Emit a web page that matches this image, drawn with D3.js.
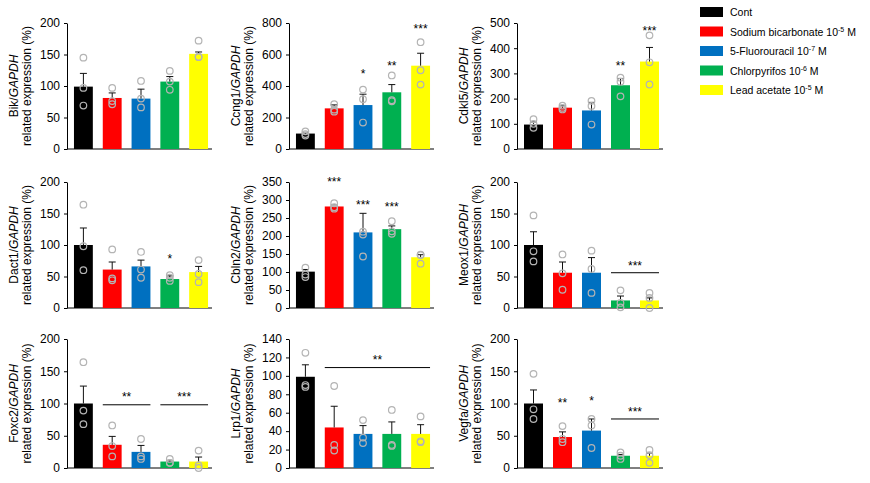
<!DOCTYPE html>
<html>
<head>
<meta charset="utf-8">
<script src="https://cdn.jsdelivr.net/npm/d3@7"></script>
<style>
  html, body { margin: 0; padding: 0; background: #ffffff; }
  svg { display: block; font-family: "Liberation Sans", Arial, sans-serif; }
</style>
</head>
<body>
<script>
// ---------------- DATA ----------------
const genes = ["Bik", "Ccng1", "Cdkl5", "Dact1", "Cbln2", "Meox1", "Foxc2", "Lrp1", "Vegfa"];
const groups = ["Cont", "Sodium bicarbonate", "5-Fluorouracil", "Chlorpyrifos", "Lead acetate"];
const legendLabels = ["Cont", "Sodium bicarbonate 10", "5-Fluorouracil 10", "Chlorpyrifos 10", "Lead acetate 10"];
const legendExponents = ["", "-5", "-7", "-6", "-5"];
const colors = ["#000000", "#ff0000", "#0070c0", "#00b050", "#ffff00"];

const yMaxes = [200, 800, 500, 200, 350, 200, 200, 140, 200];
const yTickSteps = [50, 200, 100, 50, 50, 50, 50, 20, 50];

const means = [
  [99, 81, 80, 107, 151],
  [98, 258, 279, 360, 529],
  [97, 164, 153, 253, 347],
  [100, 61, 66, 46, 57],
  [101, 282, 210, 219, 141],
  [100, 56, 56, 12, 12],
  [100, 36, 25, 10, 10],
  [99, 44, 37, 37, 37],
  [100, 48, 58, 19, 19]
];
const errTops = [
  [120, 89, 95, 115, 154],
  [106, 280, 348, 409, 608],
  [107, 173, 185, 280, 403],
  [127, 73, 76, 51, 66],
  [107, 286, 263, 228, 148],
  [121, 73, 80, 19, 16],
  [127, 49, 35, 11, 17],
  [112, 67, 46, 50, 47],
  [121, 56, 76, 21, 23]
];
const points = [
  [[145, 97, 69], [97, 71, 76], [108, 80, 66], [124, 107, 94], [172, 146, 146]],
  [[112, 95, 85], [284, 250, 237], [377, 316, 168], [467, 303, 310], [678, 409, 500]],
  [[118, 100, 84], [172, 157, 163], [191, 97, 171], [283, 209, 267], [451, 344, 256]],
  [[164, 98, 60], [93, 47, 44], [89, 61, 48], [52, 48, 43], [76, 41, 54]],
  [[112, 93, 86], [291, 280, 276], [212, 204, 143], [241, 213, 206], [148, 123, 147]],
  [[147, 90, 74], [85, 29, 55], [91, 62, 24], [28, 1, 8], [24, 16, 0]],
  [[164, 89, 68], [66, 34, 18], [45, 18, 14], [14, 8, 8], [27, 4, 0]],
  [[125, 90, 88], [89, 25, 19], [52, 33, 27], [63, 24, 25], [56, 29, 28]],
  [[146, 91, 76], [65, 40, 45], [76, 31, 66], [24, 14, 19], [28, 8, 20]]
];
// significance marks: [panel, firstGroup, lastGroup, label, starValue, lineValue or null]
const sigMarks = [
  [1, 2, 2, "*", 497, null],
  [1, 3, 3, "**", 544, null],
  [1, 4, 4, "***", 778, null],
  [2, 3, 3, "**", 340, null],
  [2, 4, 4, "***", 480, null],
  [3, 3, 3, "*", 83, null],
  [4, 1, 1, "***", 358, null],
  [4, 2, 2, "***", 294, null],
  [4, 3, 3, "***", 288, null],
  [5, 3, 4, "***", 71, 56],
  [6, 1, 2, "**", 114, 98],
  [6, 3, 4, "***", 114, 98],
  [7, 1, 4, "**", 121, 109],
  [8, 1, 1, "**", 105, null],
  [8, 2, 2, "*", 109, null],
  [8, 3, 4, "***", 91, 76]
];

// ---------------- LAYOUT ----------------
const W = 870, H = 483;
const colAxisX = [67, 289, 517];
const colAxisEnd = [212, 434, 663];
const rowTop = [23, 182, 339];
const rowBottom = [149, 308, 468];

const svg = d3.select("body").append("svg").attr("width", W).attr("height", H);

genes.forEach((gene, i) => {
  const col = i % 3, row = Math.floor(i / 3);
  const x0 = colAxisX[col], x1 = colAxisEnd[col];
  const yT = rowTop[row], yB = rowBottom[row];
  const g = svg.append("g");

  const y = d3.scaleLinear().domain([0, yMaxes[i]]).range([yB, yT]);
  const x = d3.scaleBand().domain(d3.range(groups.length))
    .range([x0 + 2, x1 + 1]).paddingInner(0.345).paddingOuter(0.1725);
  const bw = x.bandwidth();

  // y axis
  const yAxis = d3.axisLeft(y)
    .tickValues(d3.range(0, yMaxes[i] + 1e-9, yTickSteps[i]))
    .tickSize(3).tickSizeOuter(0).tickPadding(4);
  const ya = g.append("g").attr("transform", `translate(${x0},0)`).call(yAxis);
  ya.selectAll("text").attr("font-size", 12).attr("fill", "#000")
    .attr("font-family", "'Liberation Sans', Arial, sans-serif");
  ya.selectAll("line, path").attr("stroke", "#000").attr("stroke-width", 1);

  // x axis baseline
  g.append("line").attr("x1", x0).attr("x2", x1).attr("y1", yB).attr("y2", yB)
    .attr("stroke", "#000").attr("stroke-width", 1);

  // bars
  g.selectAll("rect.bar").data(means[i]).join("rect")
    .attr("class", "bar")
    .attr("x", (d, j) => x(j)).attr("width", bw)
    .attr("y", d => y(d)).attr("height", d => yB - y(d))
    .attr("fill", (d, j) => colors[j]);

  // error bars
  const eb = g.selectAll("g.err").data(errTops[i]).join("g").attr("class", "err");
  eb.append("line")
    .attr("x1", (d, j) => x(j) + bw / 2).attr("x2", (d, j) => x(j) + bw / 2)
    .attr("y1", (d, j) => y(means[i][j])).attr("y2", d => y(d))
    .attr("stroke", "#111").attr("stroke-width", 1);
  eb.append("line")
    .attr("x1", (d, j) => x(j) + bw / 2 - 3.5).attr("x2", (d, j) => x(j) + bw / 2 + 3.5)
    .attr("y1", d => y(d)).attr("y2", d => y(d))
    .attr("stroke", "#111").attr("stroke-width", 1);

  // dots
  points[i].forEach((vals, j) => {
    g.selectAll(null).data(vals).join("circle")
      .attr("cx", x(j) + bw / 2).attr("cy", d => y(d)).attr("r", 3.3)
      .attr("fill", "none").attr("stroke", "#b4b4b4").attr("stroke-width", 1.2);
  });

  // significance
  sigMarks.filter(m => m[0] === i).forEach(m => {
    const [, a, b, label, sv, lv] = m;
    const xa = x(a), xb = x(b) + bw;
    if (lv !== null) {
      g.append("line").attr("x1", xa).attr("x2", xb).attr("y1", y(lv)).attr("y2", y(lv))
        .attr("stroke", "#000").attr("stroke-width", 1);
    }
    g.append("text").attr("x", (xa + xb) / 2).attr("y", y(sv) + 7)
      .attr("text-anchor", "middle").attr("font-size", 12).attr("fill", "#000")
      .text(label);
  });

  // y title
  const cy = (yT + yB) / 2;
  const t1 = g.append("text")
    .attr("transform", `translate(${x0 - 49},${cy}) rotate(-90)`)
    .attr("text-anchor", "middle").attr("font-size", 12).attr("fill", "#000");
  t1.append("tspan").text(gene + "/");
  t1.append("tspan").attr("font-style", "italic").text("GAPDH");
  g.append("text")
    .attr("transform", `translate(${x0 - 36},${cy}) rotate(-90)`)
    .attr("text-anchor", "middle").attr("font-size", 12).attr("fill", "#000")
    .text("related expression (%)");
});

// ---------------- LEGEND ----------------
const legend = svg.append("g");
legendLabels.forEach((lab, k) => {
  const yy = 7 + k * 19.5;
  legend.append("rect").attr("x", 700).attr("y", yy).attr("width", 23).attr("height", 10)
    .attr("fill", colors[k]);
  const t = legend.append("text").attr("x", 730).attr("y", yy + 9)
    .attr("font-size", 10.5).attr("fill", "#000");
  t.append("tspan").text(lab);
  if (legendExponents[k]) {
    t.append("tspan").attr("font-size", 7).attr("dy", -4).text(legendExponents[k]);
    t.append("tspan").attr("dy", 4).attr("dx", 3).text("M");
  }
});
</script>
</body>
</html>
